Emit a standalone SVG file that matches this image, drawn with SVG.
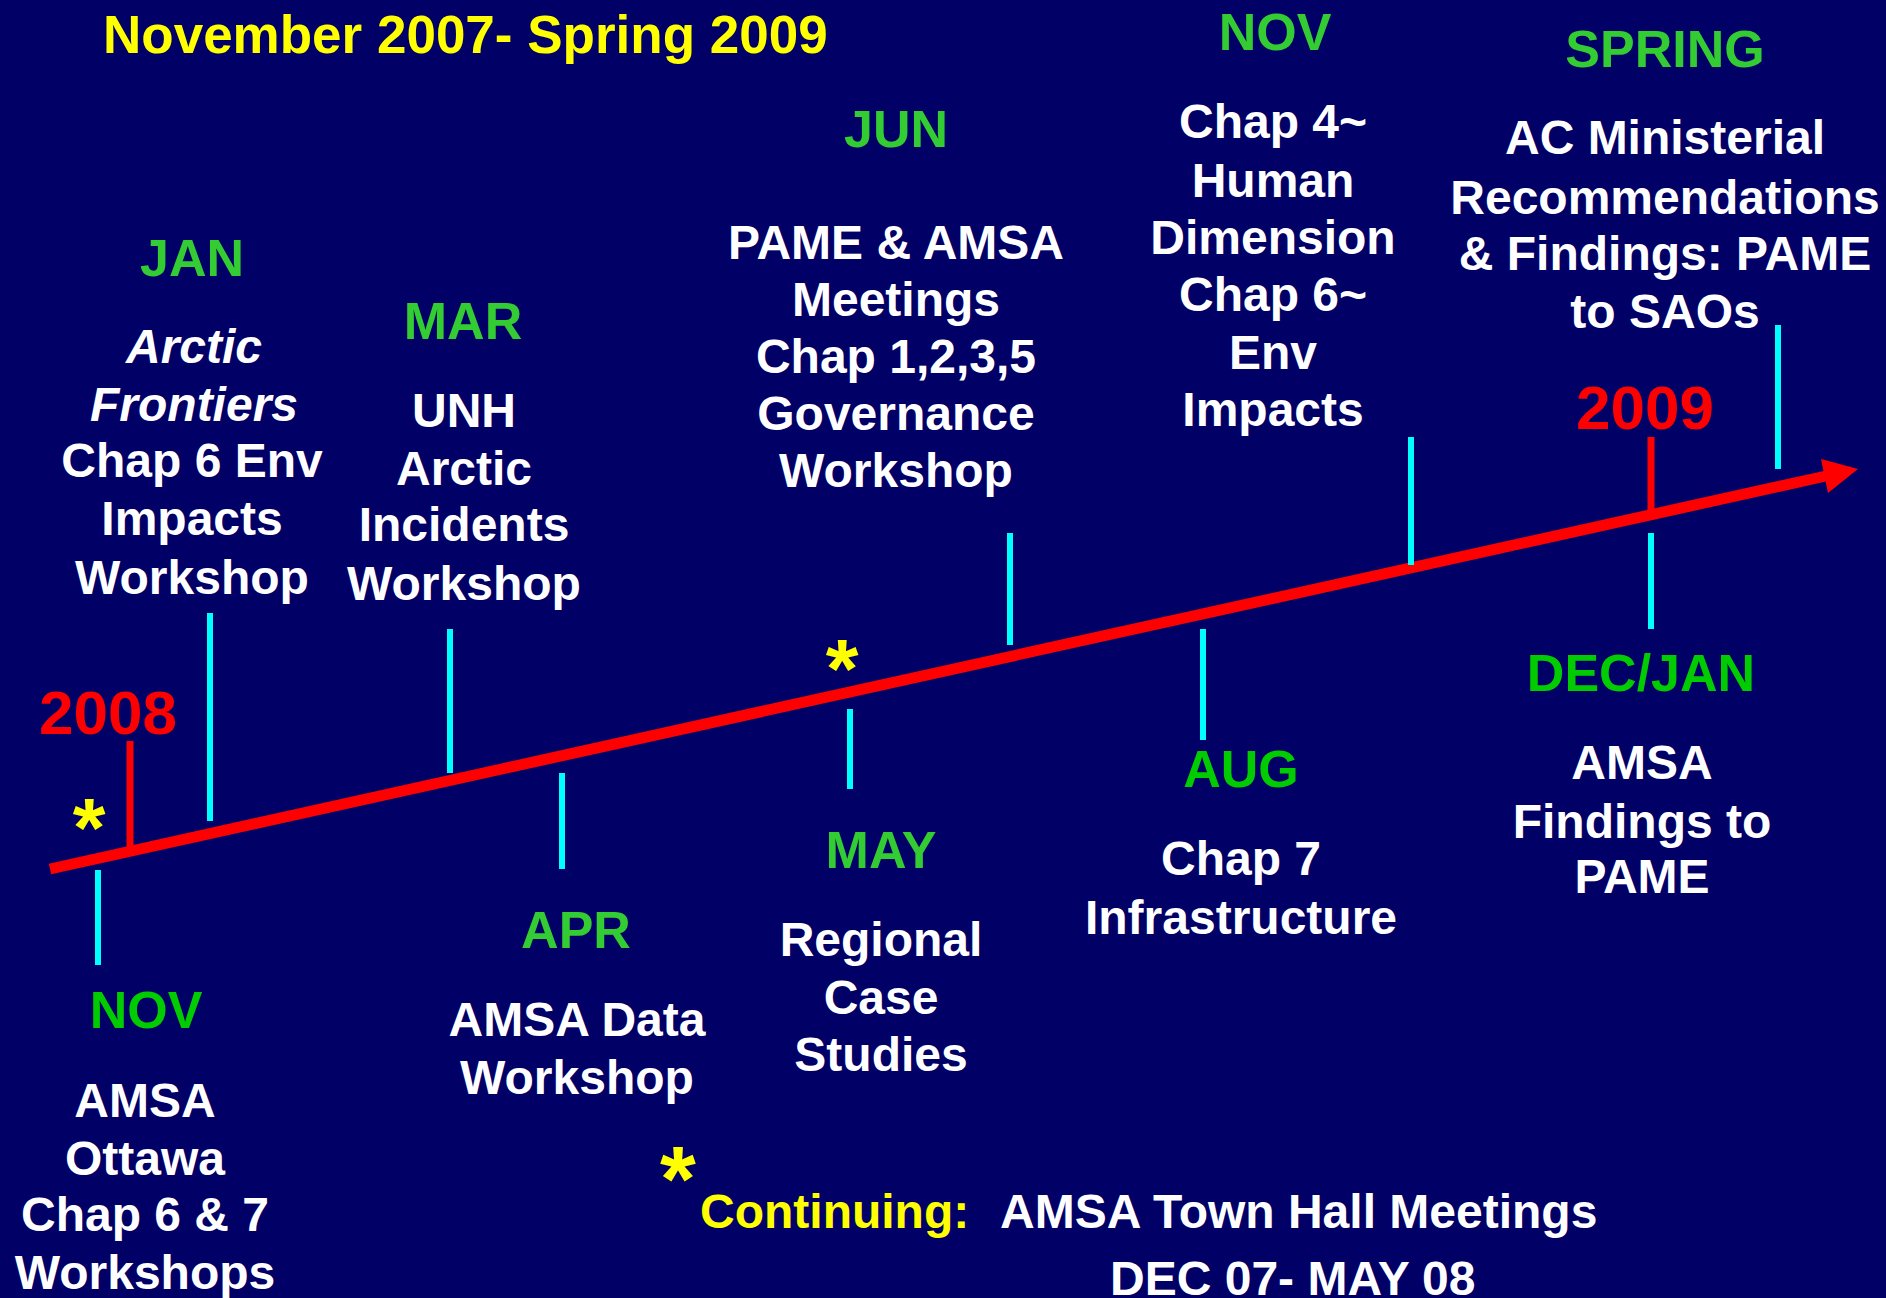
<svg xmlns="http://www.w3.org/2000/svg" width="1886" height="1298" viewBox="0 0 1886 1298">
  <style>
    text { font-family: "Liberation Sans", Arial, sans-serif; font-weight: bold; text-anchor: middle; }
    .title { fill: #FFFF00; font-size: 53px; text-anchor: start; }
    .month { fill: #33CC33; font-size: 52px; }
    .month2 { fill: #00CC00; font-size: 52px; }
    .body { fill: #FFFFFF; font-size: 48px; }
    .ital { font-style: italic; }
    .year { fill: #FF0000; font-size: 62px; }
    .star { fill: #FFFF00; font-size: 84px; }
    .cont { fill: #FFFF00; font-size: 48px; text-anchor: start; }
    .bodyl { fill: #FFFFFF; font-size: 48px; text-anchor: start; }
    .tick { stroke: #00FFFF; stroke-width: 6; }
    .rtick { stroke: #FF0000; stroke-width: 7; }
  </style>
  <rect x="0" y="0" width="1886" height="1298" fill="#000066"/>

  <text id="title" class="title" x="103" y="53">November 2007- Spring 2009</text>

  <g id="connectors">
    <line x1="50" y1="869" x2="1826" y2="476" stroke="#FF0000" stroke-width="11"/>
    <polygon points="1858,469 1821,459 1828,493" fill="#FF0000"/>
    <line class="tick" x1="98" y1="870" x2="98" y2="965"/>
    <line class="rtick" x1="130" y1="741" x2="130" y2="852"/>
    <line class="tick" x1="210" y1="613" x2="210" y2="821"/>
    <line class="tick" x1="450" y1="629" x2="450" y2="773"/>
    <line class="tick" x1="562" y1="773" x2="562" y2="869"/>
    <line class="tick" x1="850" y1="709" x2="850" y2="789"/>
    <line class="tick" x1="1010" y1="533" x2="1010" y2="645"/>
    <line class="tick" x1="1203" y1="629" x2="1203" y2="740"/>
    <line class="tick" x1="1411" y1="437" x2="1411" y2="565"/>
    <line class="rtick" x1="1651" y1="437" x2="1651" y2="512"/>
    <line class="tick" x1="1651" y1="533" x2="1651" y2="629"/>
    <line class="tick" x1="1778" y1="325" x2="1778" y2="469"/>
  </g>

  <g id="year2008">
    <text class="year" x="108" y="734">2008</text>
    <text class="star" x="89" y="857">*</text>
  </g>

  <g id="year2009">
    <text class="year" x="1645" y="429">2009</text>
  </g>

  <g id="nov2007">
    <text class="month2" x="146" y="1028">NOV</text>
    <text class="body"><tspan x="145" y="1117">AMSA</tspan><tspan x="145" y="1175">Ottawa</tspan><tspan x="145" y="1231">Chap 6 &amp; 7</tspan><tspan x="145" y="1289">Workshops</tspan></text>
  </g>

  <g id="jan">
    <text class="month" x="192" y="276">JAN</text>
    <text class="body"><tspan class="ital" x="194" y="363">Arctic</tspan><tspan class="ital" x="194" y="421">Frontiers</tspan><tspan x="192" y="477">Chap 6 Env</tspan><tspan x="192" y="535">Impacts</tspan><tspan x="192" y="594">Workshop</tspan></text>
  </g>

  <g id="mar">
    <text class="month" x="463" y="339">MAR</text>
    <text class="body"><tspan x="464" y="427">UNH</tspan><tspan x="464" y="485">Arctic</tspan><tspan x="464" y="541">Incidents</tspan><tspan x="464" y="600">Workshop</tspan></text>
  </g>

  <g id="apr">
    <text class="month" x="576" y="948">APR</text>
    <text class="body"><tspan x="577" y="1036">AMSA Data</tspan><tspan x="577" y="1094">Workshop</tspan></text>
  </g>

  <g id="may">
    <text class="star" x="842" y="698">*</text>
    <text class="month" x="881" y="868">MAY</text>
    <text class="body"><tspan x="881" y="956">Regional</tspan><tspan x="881" y="1014">Case</tspan><tspan x="881" y="1071">Studies</tspan></text>
  </g>

  <g id="jun">
    <text class="month" x="896" y="147">JUN</text>
    <text class="body"><tspan x="896" y="259">PAME &amp; AMSA</tspan><tspan x="896" y="316">Meetings</tspan><tspan x="896" y="373">Chap 1,2,3,5</tspan><tspan x="896" y="430">Governance</tspan><tspan x="896" y="487">Workshop</tspan></text>
  </g>

  <g id="aug">
    <text class="month2" x="1241" y="787">AUG</text>
    <text class="body"><tspan x="1241" y="875">Chap 7</tspan><tspan x="1241" y="934">Infrastructure</tspan></text>
  </g>

  <g id="nov2008">
    <text class="month" x="1275" y="50">NOV</text>
    <text class="body"><tspan x="1273" y="138">Chap 4~</tspan><tspan x="1273" y="197">Human</tspan><tspan x="1273" y="254">Dimension</tspan><tspan x="1273" y="311">Chap 6~</tspan><tspan x="1273" y="369">Env</tspan><tspan x="1273" y="426">Impacts</tspan></text>
  </g>

  <g id="decjan">
    <text class="month2" x="1641" y="691">DEC/JAN</text>
    <text class="body"><tspan x="1642" y="779">AMSA</tspan><tspan x="1642" y="838">Findings to</tspan><tspan x="1642" y="893">PAME</tspan></text>
  </g>

  <g id="spring">
    <text class="month" x="1665" y="67">SPRING</text>
    <text class="body"><tspan x="1665" y="154">AC Ministerial</tspan><tspan x="1665" y="214">Recommendations</tspan><tspan x="1665" y="270">&amp; Findings: PAME</tspan><tspan x="1665" y="328">to SAOs</tspan></text>
  </g>

  <g id="continuing">
    <text class="star" x="678" y="1211" style="font-size:92px">*</text>
    <text class="cont" x="700" y="1228">Continuing:</text>
    <text class="bodyl" x="1000" y="1228">AMSA Town Hall Meetings</text>
    <text class="bodyl" x="1110" y="1295">DEC 07- MAY 08</text>
  </g>
</svg>
